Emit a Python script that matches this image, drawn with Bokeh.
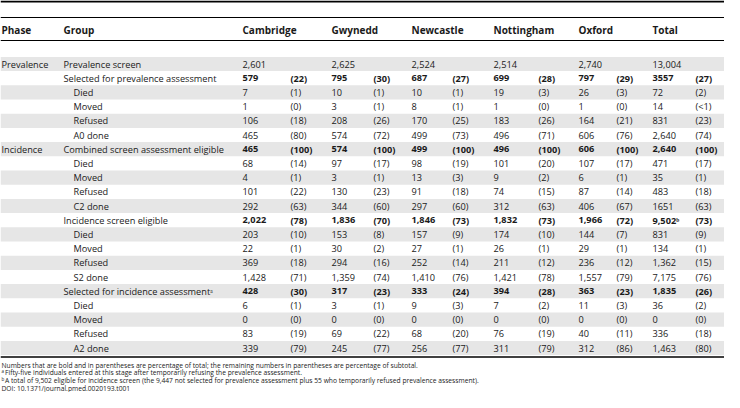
from bokeh.plotting import figure
from bokeh.models import ColumnDataSource, Range1d, Span
from bokeh.core.properties import value
from bokeh.embed import file_html
from bokeh.resources import INLINE

# ---------------- data ----------------
column_headers = ["Phase", "Group", "Cambridge", "Gwynedd", "Newcastle", "Nottingham", "Oxford", "Total"]
sites = ["Cambridge", "Gwynedd", "Newcastle", "Nottingham", "Oxford", "Total"]

phase_names = ["Prevalence", "Incidence"]
phase_first_row = [0, 6]

groups = ["Prevalence screen", "Selected for prevalence assessment", "Died", "Moved", "Refused", "A0 done",
          "Combined screen assessment eligible", "Died", "Moved", "Refused", "C2 done",
          "Incidence screen eligible", "Died", "Moved", "Refused", "S2 done",
          "Selected for incidence assessment\u1d43", "Died", "Moved", "Refused", "A2 done"]
group_level = [0, 0, 1, 1, 1, 1, 0, 1, 1, 1, 1, 0, 1, 1, 1, 1, 0, 1, 1, 1, 1]
bold_rows = [1, 6, 11, 16]

cambridge_n = ["2,601", "579", "7", "1", "106", "465", "465", "68", "4", "101", "292",
               "2,022", "203", "22", "369", "1,428", "428", "6", "0", "83", "339"]
cambridge_pct = ["", "(22)", "(1)", "(0)", "(18)", "(80)", "(100)", "(14)", "(1)", "(22)", "(63)",
                 "(78)", "(10)", "(1)", "(18)", "(71)", "(30)", "(1)", "(0)", "(19)", "(79)"]
gwynedd_n = ["2,625", "795", "10", "3", "208", "574", "574", "97", "3", "130", "344",
             "1,836", "153", "30", "294", "1,359", "317", "3", "0", "69", "245"]
gwynedd_pct = ["", "(30)", "(1)", "(1)", "(26)", "(72)", "(100)", "(17)", "(1)", "(23)", "(60)",
               "(70)", "(8)", "(2)", "(16)", "(74)", "(23)", "(1)", "(0)", "(22)", "(77)"]
newcastle_n = ["2,524", "687", "10", "8", "170", "499", "499", "98", "13", "91", "297",
               "1,846", "157", "27", "252", "1,410", "333", "9", "0", "68", "256"]
newcastle_pct = ["", "(27)", "(1)", "(1)", "(25)", "(73)", "(100)", "(19)", "(3)", "(18)", "(60)",
                 "(73)", "(9)", "(1)", "(14)", "(76)", "(24)", "(3)", "(0)", "(20)", "(77)"]
nottingham_n = ["2,514", "699", "19", "1", "183", "496", "496", "101", "9", "74", "312",
                "1,832", "174", "26", "211", "1,421", "394", "7", "0", "76", "311"]
nottingham_pct = ["", "(28)", "(3)", "(0)", "(26)", "(71)", "(100)", "(20)", "(2)", "(15)", "(63)",
                  "(73)", "(10)", "(1)", "(12)", "(78)", "(28)", "(2)", "(0)", "(19)", "(79)"]
oxford_n = ["2,740", "797", "26", "1", "164", "606", "606", "107", "6", "87", "406",
            "1,966", "144", "29", "236", "1,557", "363", "11", "0", "40", "312"]
oxford_pct = ["", "(29)", "(3)", "(0)", "(21)", "(76)", "(100)", "(17)", "(1)", "(14)", "(67)",
              "(72)", "(7)", "(1)", "(12)", "(79)", "(23)", "(3)", "(0)", "(11)", "(86)"]
total_n = ["13,004", "3557", "72", "14", "831", "2,640", "2,640", "471", "35", "483", "1651",
           "9,502\u1d47", "831", "134", "1,362", "7,175", "1,835", "36", "0", "336", "1,463"]
total_pct = ["", "(27)", "(2)", "(<1)", "(23)", "(74)", "(100)", "(17)", "(1)", "(18)", "(63)",
             "(73)", "(9)", "(1)", "(15)", "(76)", "(26)", "(2)", "(0)", "(18)", "(80)"]

site_n = [cambridge_n, gwynedd_n, newcastle_n, nottingham_n, oxford_n, total_n]
site_pct = [cambridge_pct, gwynedd_pct, newcastle_pct, nottingham_pct, oxford_pct, total_pct]

footnote_marks = ["", "a", "b", ""]
footnotes = [
    "Numbers that are bold and in parentheses are percentage of total; the remaining numbers in parentheses are percentage of subtotal.",
    "Fifty-five individuals entered at this stage after temporarily refusing the prevalence assessment.",
    "A total of 9,502 eligible for incidence screen (the 9,447 not selected for prevalence assessment plus 55 who temporarily refused prevalence assessment).",
    "DOI: 10.1371/journal.pmed.0020193.t001",
]

# ---------------- layout ----------------
OFF = 8
W, H = 724, 392
FONT = value("Open Sans")
TXT = "#1a1a1a"
GREY = "#e6e6e6"
BODY = "9.2px"
HEAD = "10px"

x_phase = 9
x_group = 71
indent = 10
x_num = [250, 339, 419, 501, 586, 660]
x_pct = [298, 381, 460, 546, 624, 703]

y_top_rule = 9
y_rule2 = 25
y_head = 37
y_head_rule = 48
row0 = 71.5
row_h = 14.2
y_bottom_rule = 364.5
foot_y0 = 372.5
foot_h = 7.7

n_rows = len(groups)
row_y = [row0 + i * row_h for i in range(n_rows)]

p = figure(width=W, height=H, x_range=Range1d(OFF, OFF + W), y_range=Range1d(OFF + H, OFF),
           output_backend="svg", toolbar_location=None, min_border=0)
p.axis.visible = False
p.grid.visible = False
p.outline_line_color = None
p.background_fill_color = "white"

# zebra shading
shaded = [y for i, y in enumerate(row_y) if i % 2 == 0]
p.hbar(y=shaded, height=row_h, left=OFF, right=OFF + W, color=GREY, line_color=None)

# rules
p.add_layout(Span(location=y_top_rule, dimension="width", line_color="black", line_width=2))
p.add_layout(Span(location=y_rule2, dimension="width", line_color="black", line_width=1))
p.add_layout(Span(location=y_head_rule, dimension="width", line_color="black", line_width=1))
p.add_layout(Span(location=y_bottom_rule, dimension="width", line_color="black", line_width=1.5))

# header
hx = [x_phase, x_group] + x_num
p.text(x=hx, y=[y_head] * len(hx), text=column_headers, text_font=FONT, text_font_size=HEAD,
       text_font_style="bold", text_baseline="middle", text_color=TXT)

# phase labels
p.text(x=[x_phase] * len(phase_names), y=[row_y[r] for r in phase_first_row], text=phase_names,
       text_font=FONT, text_font_size=BODY, text_baseline="middle", text_color=TXT)

# cells
xs, ys, ts, bold = [], [], [], []
for i in range(n_rows):
    xs.append(x_group + indent * group_level[i]); ys.append(row_y[i]); ts.append(groups[i]); bold.append(False)
    b = i in bold_rows
    for j in range(len(sites)):
        xs.append(x_num[j]); ys.append(row_y[i]); ts.append(site_n[j][i]); bold.append(b)
        xs.append(x_pct[j]); ys.append(row_y[i]); ts.append(site_pct[j][i]); bold.append(b)

norm = ColumnDataSource(dict(x=[a for a, k in zip(xs, bold) if not k], y=[a for a, k in zip(ys, bold) if not k],
                             t=[a for a, k in zip(ts, bold) if not k]))
bsrc = ColumnDataSource(dict(x=[a for a, k in zip(xs, bold) if k], y=[a for a, k in zip(ys, bold) if k],
                             t=[a for a, k in zip(ts, bold) if k]))
p.text(x="x", y="y", text="t", source=norm, text_font=FONT, text_font_size=BODY,
       text_baseline="middle", text_color=TXT)
p.text(x="x", y="y", text="t", source=bsrc, text_font=FONT, text_font_size=BODY,
       text_font_style="bold", text_baseline="middle", text_color=TXT)

# footnotes
fy = [foot_y0 + k * foot_h for k in range(len(footnotes))]
fx = [x_phase + (3.5 if m else 0) for m in footnote_marks]
p.text(x=fx, y=fy, text=footnotes, text_font=FONT, text_font_size="6.7px",
       text_baseline="middle", text_color=TXT)
mk = [k for k, m in enumerate(footnote_marks) if m]
p.text(x=[x_phase] * len(mk), y=[fy[k] - 1.8 for k in mk], text=[footnote_marks[k] for k in mk],
       text_font=FONT, text_font_size="4.5px", text_baseline="middle", text_color=TXT)

open("out.html", "w").write(file_html(p, INLINE))
